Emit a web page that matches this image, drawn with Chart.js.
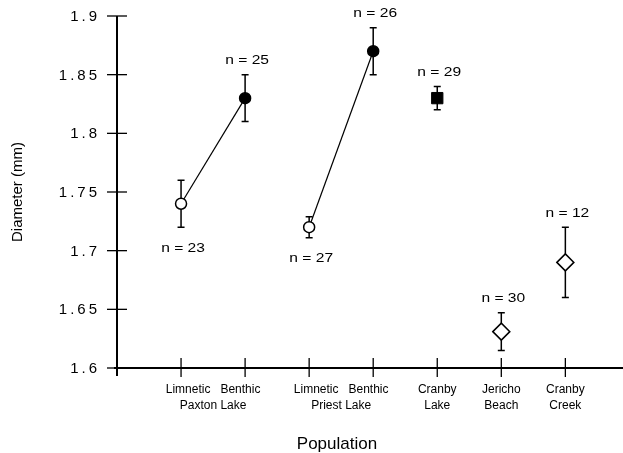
<!DOCTYPE html>
<html><head><meta charset="utf-8">
<script src="https://cdn.jsdelivr.net/npm/chart.js@4"></script>
<style>html,body{margin:0;padding:0;background:#fff}#wrap{width:623px;height:453px}</style>
</head><body><div id="wrap"><canvas id="c" width="623" height="453"></canvas></div>
<script>
const categories = ['Limnetic Paxton','Benthic Paxton','Limnetic Priest','Benthic Priest','Cranby Lake','Jericho Beach','Cranby Creek'];
const categoryPositions = [1,2,3,4,5,6,7];
const means = [1.74,1.83,1.72,1.87,1.83,1.631,1.69];
const errors = [0.02,0.02,0.009,0.02,0.01,0.016,0.03];
const sampleSizes = [23,25,27,26,29,30,12];
const labelSide = ['below','above','below','above','above','above','above'];
const xLabelPositions = [1.5,3.5,5,6,7];
const xLabelLines = [['Limnetic   Benthic','Paxton Lake'],['Limnetic   Benthic','Priest Lake'],['Cranby','Lake'],['Jericho','Beach'],['Cranby','Creek']];
const yTicks = [1.6,1.65,1.7,1.75,1.8,1.85,1.9];
const yTickLabels = ['1.6','1.65','1.7','1.75','1.8','1.85','1.9'];

const FONT = '"Liberation Sans", Arial, Helvetica, sans-serif';
Chart.defaults.font.family = FONT;
Chart.defaults.color = '#000';

const pt = i => ({x: categoryPositions[i], y: means[i]});

const decor = {
  id: 'decor',
  beforeDatasetsDraw(chart) {
    const {ctx, chartArea: a, scales: {x, y}} = chart;
    ctx.save();
    ctx.strokeStyle = '#000';
    ctx.lineWidth = 2;
    ctx.beginPath();
    ctx.moveTo(a.left, y.getPixelForValue(yTicks[yTicks.length - 1]));
    ctx.lineTo(a.left, a.bottom + 8);
    ctx.stroke();
    ctx.beginPath();
    ctx.moveTo(a.left - 3, a.bottom);
    ctx.lineTo(chart.width, a.bottom);
    ctx.stroke();
    ctx.lineWidth = 1.3;
    yTicks.forEach(v => {
      const py = y.getPixelForValue(v);
      ctx.beginPath(); ctx.moveTo(a.left - 10, py); ctx.lineTo(a.left + 10, py); ctx.stroke();
    });
    categoryPositions.forEach(v => {
      const px = x.getPixelForValue(v);
      ctx.beginPath(); ctx.moveTo(px, a.bottom - 10); ctx.lineTo(px, a.bottom + 9); ctx.stroke();
    });
    // error bars
    ctx.lineWidth = 1.5;
    means.forEach((m, i) => {
      const px = x.getPixelForValue(categoryPositions[i]);
      const t = y.getPixelForValue(m + errors[i]);
      const b = y.getPixelForValue(m - errors[i]);
      ctx.beginPath();
      ctx.moveTo(px, t); ctx.lineTo(px, b);
      ctx.moveTo(px - 3.5, t); ctx.lineTo(px + 3.5, t);
      ctx.moveTo(px - 3.5, b); ctx.lineTo(px + 3.5, b);
      ctx.stroke();
    });
    ctx.restore();
  },
  afterDraw(chart) {
    const {ctx, chartArea: a, scales: {x, y}} = chart;
    ctx.save();
    ctx.fillStyle = '#000';
    // y tick labels
    ctx.font = '15px ' + FONT;
    ctx.letterSpacing = '3px';
    ctx.textAlign = 'right';
    ctx.textBaseline = 'middle';
    yTicks.forEach((v, i) => {
      ctx.fillText(yTickLabels[i], 100, y.getPixelForValue(v) + 1);
    });
    // n labels (wide lettering)
    ctx.font = '12px ' + FONT;
    ctx.letterSpacing = '0px';
    ctx.textAlign = 'center';
    means.forEach((m, i) => {
      const px = x.getPixelForValue(categoryPositions[i]);
      const py = labelSide[i] === 'above'
        ? y.getPixelForValue(m + errors[i]) - 14
        : y.getPixelForValue(m - errors[i]) + 21;
      ctx.save();
      ctx.translate(px + 2, py);
      ctx.scale(1.3, 1);
      ctx.fillText('n = ' + sampleSizes[i], 0, 0);
      ctx.restore();
    });
    // axis title
    ctx.font = '17px ' + FONT;
    ctx.fillText('Population', 337, 444);
    ctx.restore();
  }
};

new Chart(document.getElementById('c'), {
  type: 'scatter',
  data: {
    datasets: [
      {label: 'Paxton Lake', data: [pt(0), pt(1)], showLine: true, borderColor: '#000', borderWidth: 1.2,
       pointStyle: 'circle', pointRadius: 5.5, pointBackgroundColor: ['#fff', '#000'], pointBorderColor: '#000', pointBorderWidth: 1.5, clip: false},
      {label: 'Priest Lake', data: [pt(2), pt(3)], showLine: true, borderColor: '#000', borderWidth: 1.2,
       pointStyle: 'circle', pointRadius: 5.5, pointBackgroundColor: ['#fff', '#000'], pointBorderColor: '#000', pointBorderWidth: 1.5, clip: false},
      {label: 'Cranby Lake', data: [pt(4)], pointStyle: 'rect', pointRadius: 8, pointBackgroundColor: '#000', pointBorderColor: '#000', pointBorderWidth: 1, clip: false},
      {label: 'Jericho Beach', data: [pt(5)], pointStyle: 'rectRot', pointRadius: 8.5, pointBackgroundColor: '#fff', pointBorderColor: '#000', pointBorderWidth: 1.5, clip: false},
      {label: 'Cranby Creek', data: [pt(6)], pointStyle: 'rectRot', pointRadius: 8.5, pointBackgroundColor: '#fff', pointBorderColor: '#000', pointBorderWidth: 1.5, clip: false}
    ]
  },
  options: {
    responsive: false,
    animation: false,
    layout: {autoPadding: false, padding: {top: 16, right: 0, bottom: 0, left: 0}},
    plugins: {legend: {display: false}, tooltip: {enabled: false}},
    scales: {
      x: {
        type: 'linear', min: 0, max: 7.9,
        grid: {display: false, drawTicks: false},
        border: {display: false},
        afterFit: s => { s.height = 85; s.paddingLeft = 0; s.paddingRight = 0; },
        afterBuildTicks: s => { s.ticks = xLabelPositions.map(v => ({value: v})); },
        ticks: {
          padding: 14, maxRotation: 0, autoSkip: false,
          font: {size: 12, lineHeight: 1.34},
          callback: (v) => { const i = xLabelPositions.indexOf(v); return i >= 0 ? xLabelLines[i] : ''; }
        }
      },
      y: {
        type: 'linear', min: yTicks[0], max: yTicks[yTicks.length - 1],
        grid: {display: false, drawTicks: false},
        border: {display: false},
        ticks: {display: false, stepSize: 0.05},
        afterFit: s => { s.width = 117; },
        title: {display: true, text: 'Diameter (mm)', font: {size: 15}, padding: {top: 9, bottom: 0}}
      }
    }
  },
  plugins: [decor]
});
</script>
</body></html>
